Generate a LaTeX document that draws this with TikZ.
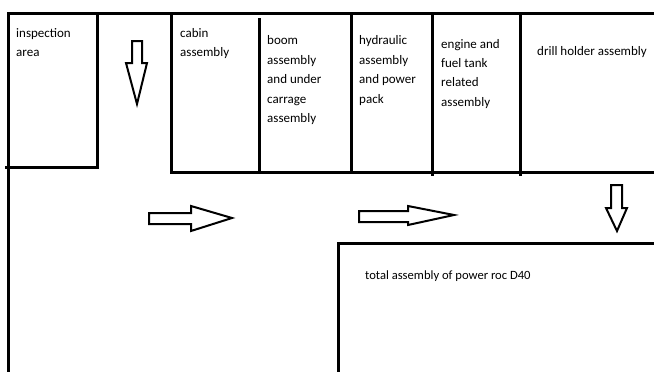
\documentclass[tikz,border=0pt]{standalone}
\usepackage{fontspec}
\setmainfont{Carlito}
\newcommand{\lines}[1]{\begin{tabular}[t]{@{}l@{}}#1\end{tabular}}
\begin{document}
\begin{tikzpicture}[x=1pt,y=-1pt,
  wall/.style={line width=3pt,line cap=rect},
  blockarrow/.style={line width=2pt,line join=miter,fill=white},
  lbl/.style={anchor=base west,inner sep=0pt,font=\fontsize{13}{19.5}\selectfont},
  lblsmall/.style={anchor=base west,inner sep=0pt,font=\fontsize{12.6}{15}\selectfont}]
\useasboundingbox (0,0) rectangle (654,372);
% walls
\draw[wall] (8,13) -- (654,13);
\draw[wall] (8,13) -- (8,372);
\draw[wall] (6,167) -- (97,167) -- (97,13);
\draw[wall] (171,13) -- (171,172) -- (654,172);
\draw[wall] (259,19) -- (259,172);
\draw[wall] (351,13) -- (351,172);
\draw[wall] (432,13) -- (432,174);
\draw[wall] (520,13) -- (520,174);
\draw[wall] (338,372) -- (338,243) -- (654,243);
% labels
\node[lbl] (insp) at (16,37) {\lines{inspection\\area}};
\node[lbl] (cabin) at (180,37) {\lines{cabin\\assembly}};
\node[lbl] (boom) at (267,45) {\lines{boom\\assembly\\and under\\carrage\\assembly}};
\node[lbl] (hyd) at (359,45) {\lines{hydraulic\\assembly\\and power\\pack}};
\node[lbl] (eng) at (441,48) {\lines{engine and\\fuel tank\\related\\assembly}};
\node[lbl] (drill) at (537,56) {drill holder assembly};
\node[lblsmall] (total) at (365,279) {total assembly of power roc D40};
% block arrows
\draw[blockarrow] (132,41) -- (142,41) -- (142,63) -- (147,63) -- (137,104) -- (126,63) -- (132,63) -- cycle;
\draw[blockarrow] (611,185) -- (622,185) -- (622,208) -- (627,208) -- (617,231) -- (606,208) -- (611,208) -- cycle;
\draw[blockarrow] (149,213) -- (191,213) -- (191,206) -- (232,218) -- (191,231) -- (191,224) -- (149,224) -- cycle;
\draw[blockarrow] (359,211) -- (408,211) -- (408,206) -- (454,215) -- (408,225) -- (408,222) -- (359,222) -- cycle;
\end{tikzpicture}
\end{document}
